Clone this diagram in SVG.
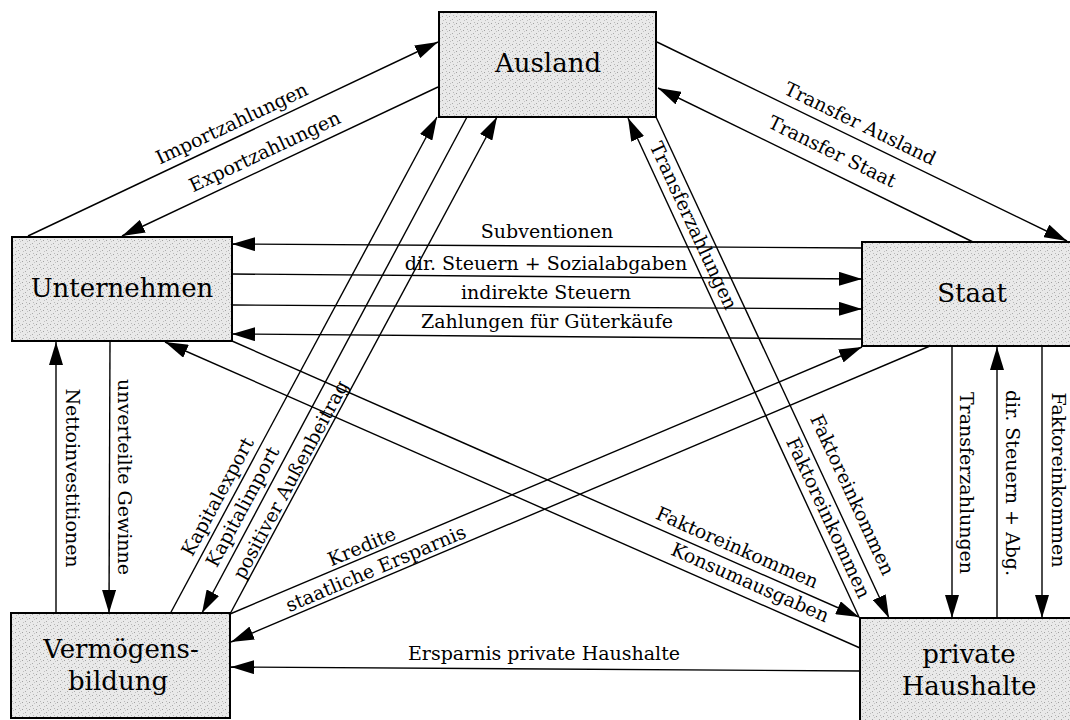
<svg xmlns="http://www.w3.org/2000/svg" width="1070" height="720" viewBox="0 0 1070 720">
<defs>
<pattern id="speck" width="7" height="7" patternUnits="userSpaceOnUse">
<rect width="7" height="7" fill="#e9e9e9"/>
<rect x="1" y="2" width="1" height="1" fill="#a0a0a0"/>
<rect x="4" y="5" width="1" height="1" fill="#aaaaaa"/>
<rect x="5" y="1" width="1" height="1" fill="#b8b8b8"/>
<rect x="2" y="6" width="1" height="1" fill="#c0c0c0"/>
<rect x="6" y="3" width="1" height="1" fill="#c4c4c4"/>
</pattern>
<marker id="ah" markerUnits="userSpaceOnUse" markerWidth="23" markerHeight="14" refX="23" refY="7" orient="auto">
<path d="M0,0 L23,7 L0,14 z" fill="#000"/>
</marker>
</defs>
<style>
.box{fill:url(#speck);stroke:#000;stroke-width:2}
.node{font-family:"DejaVu Serif","Liberation Serif",serif;font-size:26px;fill:#000;text-anchor:middle}
.lbl{font-family:"DejaVu Serif","Liberation Serif",serif;font-size:19px;fill:#000;text-anchor:middle}
.c{stroke:#000;stroke-width:1.4;fill:none}
.a{marker-end:url(#ah)}
</style>
<rect width="1070" height="720" fill="#fff"/>

<g id="connectors">
<line class="c a" x1="28" y1="236" x2="438" y2="42"/>
<line class="c a" x1="438" y1="87" x2="122" y2="236"/>
<line class="c a" x1="657" y1="42" x2="1067" y2="241"/>
<line class="c a" x1="973" y1="242" x2="658" y2="88"/>
<line class="c a" x1="862" y1="248" x2="232" y2="244"/>
<line class="c a" x1="232" y1="274" x2="862" y2="279"/>
<line class="c a" x1="232" y1="305" x2="862" y2="309"/>
<line class="c a" x1="862" y1="339" x2="232" y2="334"/>
<line class="c a" x1="170" y1="614" x2="437" y2="117"/>
<line class="c a" x1="467" y1="117" x2="202" y2="613"/>
<line class="c a" x1="230" y1="614" x2="497" y2="117"/>
<line class="c a" x1="859" y1="617" x2="628" y2="118"/>
<line class="c a" x1="656" y1="117" x2="889" y2="618"/>
<line class="c a" x1="56" y1="613" x2="56" y2="342"/>
<line class="c a" x1="110" y1="341" x2="109" y2="613"/>
<line class="c a" x1="232" y1="341" x2="859" y2="617"/>
<line class="c a" x1="860" y1="648" x2="165" y2="342"/>
<line class="c a" x1="230" y1="614" x2="862" y2="347"/>
<line class="c a" x1="930" y1="346" x2="231" y2="642"/>
<line class="c a" x1="860" y1="671" x2="231" y2="667"/>
<line class="c a" x1="952" y1="346" x2="952" y2="618"/>
<line class="c a" x1="997" y1="619" x2="997" y2="347"/>
<line class="c a" x1="1042" y1="346" x2="1042" y2="618"/>

<text class="lbl" transform="translate(232,124) rotate(-25.3)" y="6">Importzahlungen</text>
<text class="lbl" transform="translate(265,152) rotate(-25.2)" y="6">Exportzahlungen</text>
<text class="lbl" transform="translate(860,124) rotate(25.9)" y="6">Transfer Ausland</text>
<text class="lbl" transform="translate(832,152) rotate(26)" y="6">Transfer Staat</text>
<text class="lbl" x="547" y="238">Subventionen</text>
<text class="lbl" x="546" y="270">dir. Steuern + Sozialabgaben</text>
<text class="lbl" x="546" y="299">indirekte Steuern</text>
<text class="lbl" x="547" y="328">Zahlungen für Güterkäufe</text>
<text class="lbl" transform="translate(693,226) rotate(65.2)" y="6">Transferzahlungen</text>
<text class="lbl" transform="translate(828,518) rotate(65.2)" y="6">Faktoreinkommen</text>
<text class="lbl" transform="translate(852,495) rotate(65.2)" y="6">Faktoreinkommen</text>
<text class="lbl" transform="translate(218,497) rotate(-61.8)" y="6">Kapitalexport</text>
<text class="lbl" transform="translate(243,507) rotate(-61.8)" y="6">Kapitalimport</text>
<text class="lbl" transform="translate(291,480) rotate(-61.7)" y="6">positiver Außenbeitrag</text>
<text class="lbl" transform="translate(72,478) rotate(90)" y="6">Nettoinvestitionen</text>
<text class="lbl" transform="translate(124,477) rotate(90)" y="6">unverteilte Gewinne</text>
<text class="lbl" transform="translate(362,547) rotate(-22.9)" y="6">Kredite</text>
<text class="lbl" transform="translate(376,569) rotate(-22.9)" y="6">staatliche Ersparnis</text>
<text class="lbl" transform="translate(737,548) rotate(23.7)" y="6">Faktoreinkommen</text>
<text class="lbl" transform="translate(750,583) rotate(23.7)" y="6">Konsumausgaben</text>
<text class="lbl" x="544" y="660">Ersparnis private Haushalte</text>
<text class="lbl" transform="translate(966,483) rotate(90)" y="6">Transferzahlungen</text>
<text class="lbl" transform="translate(1012,483) rotate(90)" y="6">dir. Steuern + Abg.</text>
<text class="lbl" transform="translate(1058,480) rotate(90)" y="6">Faktoreinkommen</text>
</g>

<g id="ausland">
<rect class="box" x="439" y="12" width="217" height="105"/>
<text class="node" x="548" y="72">Ausland</text>
</g>
<g id="unternehmen">
<rect class="box" x="12" y="237" width="220" height="104"/>
<text class="node" x="122" y="297">Unternehmen</text>
</g>
<g id="staat">
<rect class="box" x="862" y="242" width="215" height="104"/>
<text class="node" x="972" y="302">Staat</text>
</g>
<g id="private-haushalte">
<rect class="box" x="860" y="618" width="215" height="110"/>
<text class="node" x="969" y="663">private</text>
<text class="node" x="969" y="695">Haushalte</text>
</g>
<g id="vermoegensbildung">
<rect class="box" x="11" y="613" width="219" height="105"/>
<text class="node" x="121" y="658">Vermögens-</text>
<text class="node" x="118" y="690">bildung</text>
</g>
</svg>
